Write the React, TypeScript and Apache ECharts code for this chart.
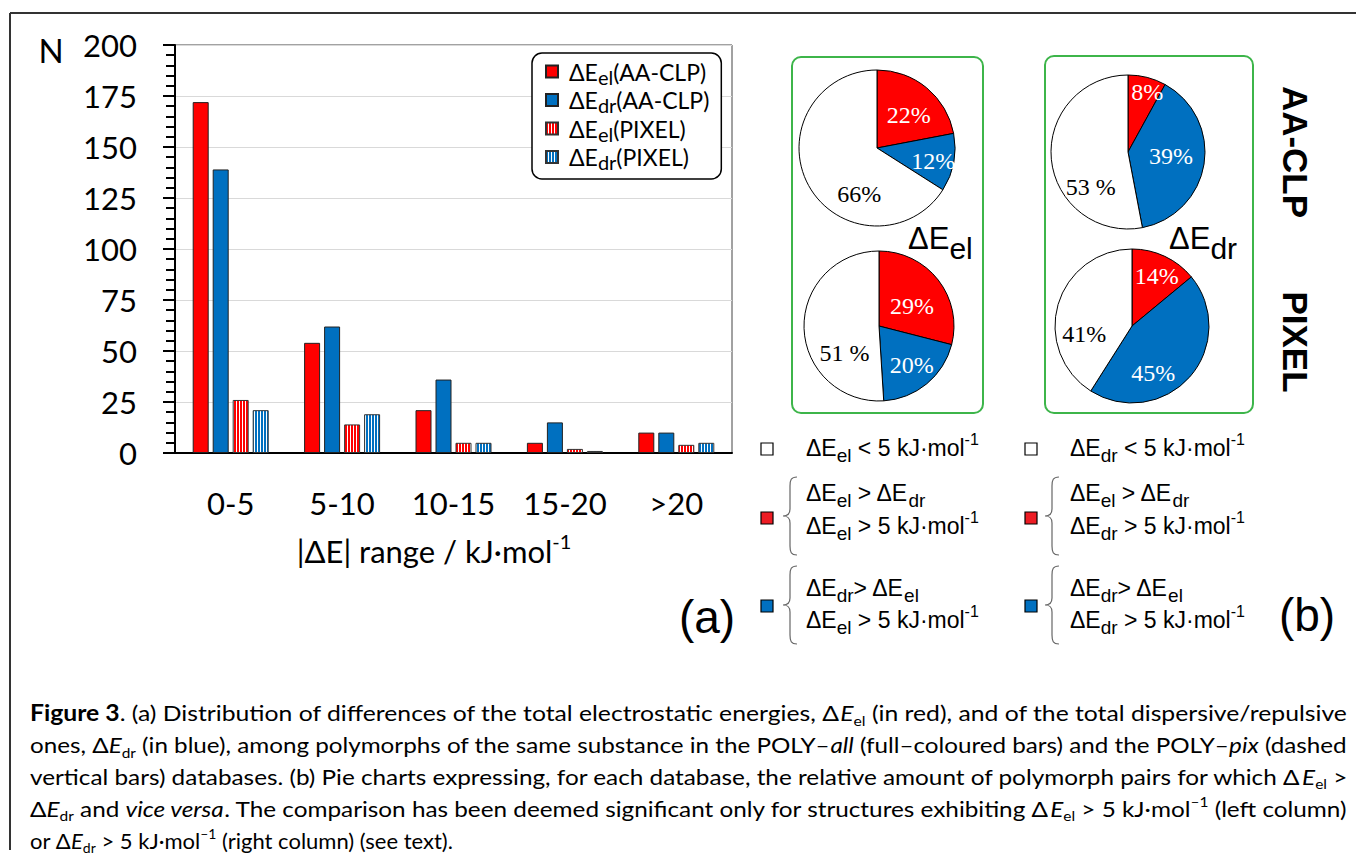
import React, { useEffect, useRef } from 'react';
import * as echarts from 'echarts';

// ---------------- data ----------------
const categories = ['0-5', '5-10', '10-15', '15-20', '>20'];
const elAACLP = [172, 54, 21, 5, 10];
const drAACLP = [139, 62, 36, 15, 10];
const elPIXEL = [26, 14, 5, 2, 4];
const drPIXEL = [21, 19, 5, 1, 5];
const yMin = 0;
const yMax = 200;
const yStep = 25;

const sliceNames = ['el', 'dr', 'small'];
const pieElAACLP = [22, 12, 66];
const pieElPIXEL = [29, 20, 51];
const pieDrAACLP = [8, 39, 53];
const pieDrPIXEL = [14, 45, 41];
const pieElAACLPText = ['22%', '12%', '66%'];
const pieElPIXELText = ['29%', '20%', '51 %'];
const pieDrAACLPText = ['8%', '39%', '53 %'];
const pieDrPIXELText = ['14%', '45%', '41%'];

// ---------------- styles ----------------
const RED = '#FF0000';
const BLUE = '#0070C0';
const GREEN = '#3DB54A';
const SANS = 'Lato';
const ARIAL = 'Liberation Sans';
const SERIF = 'Liberation Serif';

const BRACE_D =
  'M14,0 C8,0 7,3 7,9 L7,32 C7,37 5,39 0,39 C5,39 7,41 7,46 L7,69 C7,75 8,78 14,78';
echarts.graphic.registerShape('brace', echarts.graphic.extendPath(BRACE_D, {}));

const legendText: Record<string, string> = {
  elAA: '{g| }{d|ΔE}{s|el}{d|(AA-CLP)}',
  drAA: '{g| }{d|ΔE}{s|dr}{d|(AA-CLP)}',
  elPX: '{g| }{d|ΔE}{s|el}{d|(PIXEL)}',
  drPX: '{g| }{d|ΔE}{s|dr}{d|(PIXEL)}',
};

const captionLines: [string, string][][] = [
  [['b', 'Figure 3'], ['n', '. (a) Distribution of differences of the total electrostatic energies, Δ'], ['i', 'E'], ['s', 'el'], ['n', ' (in red), and of the total dispersive/repulsive']],
  [['n', 'ones, Δ'], ['i', 'E'], ['s', 'dr'], ['n', ' (in blue), among polymorphs of the same substance in the POLY–'], ['i', 'all'], ['n', ' (full–coloured bars) and the POLY–'], ['i', 'pix'], ['n', ' (dashed']],
  [['n', 'vertical bars) databases. (b) Pie charts expressing, for each database, the relative amount of polymorph pairs for which Δ'], ['i', 'E'], ['s', 'el'], ['n', ' >']],
  [['n', 'Δ'], ['i', 'E'], ['s', 'dr'], ['n', ' and '], ['i', 'vice versa'], ['n', '. The comparison has been deemed significant only for structures exhibiting Δ'], ['i', 'E'], ['s', 'el'], ['n', ' > 5 kJ·mol'], ['p', '–1'], ['n', ' (left column)']],
  [['n', 'or Δ'], ['i', 'E'], ['s', 'dr'], ['n', ' > 5 kJ·mol'], ['p', '–1'], ['n', ' (right column) (see text).']],
];

function stripeCanvas(color: string) {
  const c = document.createElement('canvas');
  c.width = 3;
  c.height = 6;
  const ctx = c.getContext('2d')!;
  ctx.fillStyle = color;
  ctx.fillRect(0, 0, 3, 6);
  ctx.fillStyle = '#ffffff';
  ctx.fillRect(2, 0, 1, 6);
  return c;
}

function pieSeries(values: number[], texts: string[], center: number[], radius: number, offsets: number[][]) {
  const colors = [RED, BLUE, '#ffffff'];
  const labelColors = ['#ffffff', '#ffffff', '#000000'];
  return {
    type: 'pie',
    center,
    radius,
    startAngle: 90,
    clockwise: true,
    silent: true,
    avoidLabelOverlap: false,
    label: {
      show: true,
      position: 'inside',
      fontFamily: SERIF,
      fontSize: 24,
      formatter: (p: any) => texts[p.dataIndex],
    },
    labelLine: { show: false },
    labelLayout: (p: any) => ({ dx: offsets[p.dataIndex][0], dy: offsets[p.dataIndex][1] }),
    itemStyle: { borderColor: '#000', borderWidth: 1 },
    emphasis: { disabled: true },
    data: values.map((v, i) => ({
      value: v,
      name: sliceNames[i],
      itemStyle: { color: colors[i] },
      label: { color: labelColors[i] },
    })),
  };
}

export default function App() {
  const ref = useRef<HTMLDivElement>(null);

  useEffect(() => {
    document.body.style.margin = '0';
    const chart = echarts.init(ref.current!, null, { renderer: 'svg' });

    const redStripe = { image: stripeCanvas(RED), repeat: 'repeat' };
    const blueStripe = { image: stripeCanvas(BLUE), repeat: 'repeat' };

    const barBase = { type: 'bar', barWidth: 16, barGap: '25%' };

    // key texts
    const keyRich = {
      m: { fontFamily: ARIAL, fontSize: 23, fill: '#000', lineHeight: 34, verticalAlign: 'middle' },
      s: { fontFamily: ARIAL, fontSize: 19, fill: '#000', lineHeight: 10, verticalAlign: 'bottom' },
      p: { fontFamily: ARIAL, fontSize: 16, fill: '#000', lineHeight: 12, verticalAlign: 'top' },
    };
    const keyText = (x: number, y: number, text: string) => ({
      type: 'text', x, y,
      style: { text, rich: keyRich, align: 'left', verticalAlign: 'middle', textAlign: 'left', textVerticalAlign: 'middle' },
    });
    const square = (x: number, y: number, fill: string) => ({
      type: 'rect', shape: { x, y, width: 12, height: 12 },
      style: { fill, stroke: '#000', lineWidth: 1.2 },
    });
    const brace = (x: number, y: number) => ({
      type: 'brace', x, y, style: { fill: 'none', stroke: '#666', lineWidth: 1.2 },
    });

    // caption
    const ctx = document.createElement('canvas').getContext('2d')!;
    const segFont = (k: string, size: number) => {
      const st = k === 'i' ? 'italic ' : '';
      const wt = k === 'b' ? 'bold ' : '';
      const sz = k === 's' || k === 'p' ? Math.round(size * 0.65) : size;
      return `${st}${wt}${sz}px ${SANS}`;
    };
    const measure = (segs: [string, string][], size: number) =>
      segs.reduce((w, [k, t]) => {
        ctx.font = segFont(k, size);
        return w + ctx.measureText(t).width;
      }, 0);
    const capLeft = 30;
    const capWidth = 1317;
    let capSize = (20 * capWidth) / measure(captionLines[0], 20);
    capSize = Math.max(16, Math.min(22, capSize));
    const subSize = Math.round(capSize * 0.65);
    const capRich = {
      n: { fontFamily: SANS, fontSize: capSize, fill: '#000', lineHeight: 28, verticalAlign: 'middle' },
      b: { fontFamily: SANS, fontSize: capSize, fontWeight: 'bold', fill: '#000', lineHeight: 28, verticalAlign: 'middle' },
      i: { fontFamily: SANS, fontSize: capSize, fontStyle: 'italic', fill: '#000', lineHeight: 28, verticalAlign: 'middle' },
      s: { fontFamily: SANS, fontSize: subSize, fill: '#000', lineHeight: 8, verticalAlign: 'bottom' },
      p: { fontFamily: SANS, fontSize: subSize, fill: '#000', lineHeight: 8, verticalAlign: 'top' },
    };
    const captionEls = captionLines.map((segs, i) => {
      const w = measure(segs, capSize);
      const sx = i < captionLines.length - 1 ? capWidth / w : 1;
      return {
        type: 'text',
        x: capLeft,
        y: 713 + i * 31.8,
        scaleX: sx,
        style: {
          text: segs.map(([k, t]) => `{${k}|${t}}`).join(''),
          rich: capRich,
          align: 'left', verticalAlign: 'middle', textAlign: 'left', textVerticalAlign: 'middle',
        },
      };
    });

    const bigRich = {
      m: { fontFamily: ARIAL, fontSize: 31, fill: '#000', lineHeight: 50, verticalAlign: 'middle' },
      s: { fontFamily: ARIAL, fontSize: 30, fill: '#000', lineHeight: 18, verticalAlign: 'bottom' },
    };

    const option: any = {
      animation: false,
      textStyle: { fontFamily: SANS },
      grid: {
        left: 175, top: 45, width: 557, height: 408,
        show: true, borderColor: '#444', borderWidth: 1,
      },
      legend: {
        data: ['elAA', 'drAA', 'elPX', 'drPX'],
        orient: 'vertical',
        left: 532,
        top: 53,
        padding: [7, 12, 7, 13],
        itemWidth: 12,
        itemHeight: 12,
        itemGap: 2,
        selectedMode: false,
        backgroundColor: '#fff',
        borderColor: '#000',
        borderWidth: 1.5,
        borderRadius: 10,
        icon: 'rect',
        formatter: (n: string) => legendText[n],
        textStyle: {
          rich: {
            g: { width: 6, fontSize: 10 },
            d: { fontFamily: SANS, fontSize: 23, color: '#000', lineHeight: 30, verticalAlign: 'middle' },
            s: { fontFamily: SANS, fontSize: 20, color: '#000', lineHeight: 11, verticalAlign: 'bottom' },
          },
        },
      },
      xAxis: {
        type: 'category',
        data: categories,
        axisLine: { lineStyle: { color: '#000', width: 2 } },
        axisTick: { show: false },
        axisLabel: { fontFamily: SANS, fontSize: 31, color: '#000', margin: 34 },
        splitLine: { show: false },
      },
      yAxis: {
        type: 'value',
        min: yMin,
        max: yMax,
        interval: yStep,
        axisLine: { show: true, lineStyle: { color: '#000', width: 2 } },
        axisTick: { show: true, length: 12, lineStyle: { color: '#000', width: 2 } },
        minorTick: { show: true, splitNumber: 5, length: 9, lineStyle: { color: '#000', width: 2 } },
        splitLine: { show: true, lineStyle: { color: '#d9d9d9', width: 1 } },
        minorSplitLine: { show: false },
        axisLabel: { fontFamily: SANS, fontSize: 31, color: '#000', margin: 38 },
      },
      series: [
        { ...barBase, name: 'elAA', data: elAACLP, itemStyle: { color: RED, borderColor: '#222', borderWidth: 1 } },
        { ...barBase, name: 'drAA', data: drAACLP, itemStyle: { color: BLUE, borderColor: '#222', borderWidth: 1 } },
        { ...barBase, name: 'elPX', data: elPIXEL, itemStyle: { color: redStripe, borderColor: '#333', borderWidth: 1 } },
        { ...barBase, name: 'drPX', data: drPIXEL, itemStyle: { color: blueStripe, borderColor: '#333', borderWidth: 1 } },
        pieSeries(pieElAACLP, pieElAACLPText, [877, 148], 78, [[5, -1], [15, 5], [19, 26]]),
        pieSeries(pieElPIXEL, pieElPIXELText, [879, 326], 75, [[1, 5], [7, 8], [6, 26]]),
        pieSeries(pieDrAACLP, pieDrAACLPText, [1128, 152], 77, [[9, -20], [2, -2], [4, 31]]),
        pieSeries(pieDrPIXEL, pieDrPIXELText, [1132, 326], 77, [[7, -12], [-10, 20], [-8, 20]]),
      ],
      graphic: {
        elements: [
          // outer frame
          { type: 'line', shape: { x1: 10, y1: 13, x2: 1356, y2: 13 }, style: { stroke: '#333', lineWidth: 2 } },
          { type: 'line', shape: { x1: 10, y1: 13, x2: 10, y2: 850 }, style: { stroke: '#333', lineWidth: 2 } },
          // y axis name
          { type: 'text', x: 51, y: 50, style: { text: 'N', fontFamily: SANS, fontSize: 33, fill: '#000', align: 'center', verticalAlign: 'middle', textAlign: 'center', textVerticalAlign: 'middle' } },
          // x axis name
          {
            type: 'text', x: 434, y: 551,
            style: {
              text: '{a||ΔE| range / kJ·mol}{p|-1}',
              rich: {
                a: { fontFamily: SANS, fontSize: 31, fill: '#000', lineHeight: 40, verticalAlign: 'middle' },
                p: { fontFamily: SANS, fontSize: 20, fill: '#000', lineHeight: 16, verticalAlign: 'top' },
              },
              align: 'center', verticalAlign: 'middle', textAlign: 'center', textVerticalAlign: 'middle',
            },
          },
          { type: 'text', x: 707, y: 617, style: { text: '(a)', fontFamily: ARIAL, fontSize: 46, fill: '#000', align: 'center', verticalAlign: 'middle', textAlign: 'center', textVerticalAlign: 'middle' } },
          { type: 'text', x: 1307, y: 615, style: { text: '(b)', fontFamily: ARIAL, fontSize: 46, fill: '#000', align: 'center', verticalAlign: 'middle', textAlign: 'center', textVerticalAlign: 'middle' } },
          // green boxes
          { type: 'rect', z: -1, shape: { x: 792, y: 57, width: 191, height: 356, r: 9 }, style: { fill: 'none', stroke: GREEN, lineWidth: 2 } },
          { type: 'rect', z: -1, shape: { x: 1045, y: 56, width: 208, height: 357, r: 9 }, style: { fill: 'none', stroke: GREEN, lineWidth: 2 } },
          // big pie labels
          { type: 'text', x: 908, y: 238, style: { text: '{m|ΔE}{s|el}', rich: bigRich, align: 'left', verticalAlign: 'middle', textAlign: 'left', textVerticalAlign: 'middle' } },
          { type: 'text', x: 1169, y: 238, style: { text: '{m|ΔE}{s|dr}', rich: bigRich, align: 'left', verticalAlign: 'middle', textAlign: 'left', textVerticalAlign: 'middle' } },
          // rotated row labels
          { type: 'text', x: 1295, y: 152, rotation: -Math.PI / 2, style: { text: 'AA-CLP', fontFamily: ARIAL, fontWeight: 'bold', fontSize: 35, fill: '#000', align: 'center', verticalAlign: 'middle', textAlign: 'center', textVerticalAlign: 'middle' } },
          { type: 'text', x: 1295, y: 342, rotation: -Math.PI / 2, style: { text: 'PIXEL', fontFamily: ARIAL, fontWeight: 'bold', fontSize: 35, fill: '#000', align: 'center', verticalAlign: 'middle', textAlign: 'center', textVerticalAlign: 'middle' } },
          // keys: left column
          square(761, 443, '#ffffff'),
          keyText(806, 448, '{m|ΔE}{s|el}{m| < 5 kJ·mol}{p|-1}'),
          square(761, 512, '#ED1C24'),
          brace(783, 477),
          keyText(806, 493, '{m|ΔE}{s|el}{m| > ΔE}{s|dr}'),
          keyText(806, 526, '{m|ΔE}{s|el}{m| > 5 kJ·mol}{p|-1}'),
          square(761, 600, BLUE),
          brace(783, 566),
          keyText(806, 588, '{m|ΔE}{s|dr}{m|> ΔE}{s|el}'),
          keyText(806, 620, '{m|ΔE}{s|el}{m| > 5 kJ·mol}{p|-1}'),
          // keys: right column
          square(1025, 443, '#ffffff'),
          keyText(1070, 448, '{m|ΔE}{s|dr}{m| < 5 kJ·mol}{p|-1}'),
          square(1025, 512, '#ED1C24'),
          brace(1045, 477),
          keyText(1070, 493, '{m|ΔE}{s|el}{m| > ΔE}{s|dr}'),
          keyText(1070, 526, '{m|ΔE}{s|dr}{m| > 5 kJ·mol}{p|-1}'),
          square(1025, 600, BLUE),
          brace(1045, 566),
          keyText(1070, 588, '{m|ΔE}{s|dr}{m|> ΔE}{s|el}'),
          keyText(1070, 620, '{m|ΔE}{s|dr}{m| > 5 kJ·mol}{p|-1}'),
          // caption
          ...captionEls,
        ],
      },
    };

    chart.setOption(option);
    return () => chart.dispose();
  }, []);

  return <div ref={ref} style={{ width: 1356, height: 865 }} />;
}
